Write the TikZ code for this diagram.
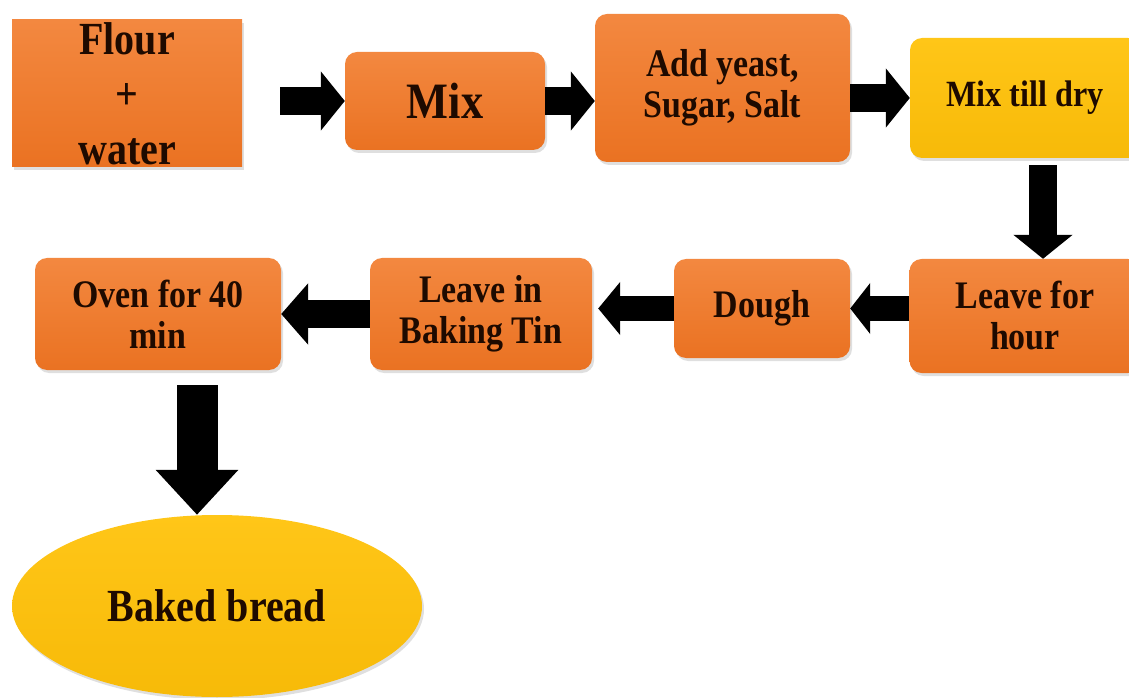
\documentclass[tikz,border=0pt]{standalone}
\usepackage{fontspec}
\setmainfont{Liberation Serif}[FakeStretch=0.87]
\usetikzlibrary{arrows.meta,shapes.geometric,shadows}
\definecolor{orangeL}{RGB}{243,136,64}
\definecolor{orangeD}{RGB}{234,114,34}
\definecolor{yellowL}{RGB}{255,198,24}
\definecolor{yellowD}{RGB}{247,186,8}
\definecolor{ink}{RGB}{30,10,0}
\begin{document}
\begin{tikzpicture}[x=1pt,y=1pt,node distance=135,
    stepbox/.style={
      rounded corners=12pt,
      top color=orangeL,bottom color=orangeD,
      drop shadow={shadow xshift=2pt,shadow yshift=-3pt,opacity=0.25},
      text=ink,align=center,inner sep=0,
      font=\bfseries\fontsize{39}{41}\selectfont},
    flow/.style={line width=28pt,-{Triangle[length=24pt,width=58pt]}}]
    \useasboundingbox (0,0) rectangle (1129,697);

    % top row, left to right
    \node[
      stepbox,
      rounded corners=0pt,
      minimum width=230,minimum height=147,
      font=\bfseries\fontsize{46}{55}\selectfont] (flour) at (127,603.5) {
      Flour\\+\\water};
    \node[
      stepbox,
      minimum width=200,minimum height=98,
      font=\bfseries\fontsize{51}{50}\selectfont] (mix) [right of=flour,node distance=318,yshift=-7.5] {
      Mix};
    \node[
      stepbox,
      minimum width=255,minimum height=148] (yeast) [right of=mix,node distance=277.5,yshift=13] {
      Add yeast,\\Sugar, Salt};
    \node[
      stepbox,
      top color=yellowL,bottom color=yellowD,
      minimum width=230,minimum height=120,
      font=\bfseries\fontsize{37}{40}\selectfont] (dry) [right of=yeast,node distance=302.5,yshift=-10] {
      Mix till dry};

    % second row, right to left
    \node[
      stepbox,
      minimum width=231,minimum height=114] (hour) [below of=dry,node distance=218] {
      Leave for\\hour};
    \node[
      stepbox,
      minimum width=176,minimum height=99] (dough) [left of=hour,node distance=263,yshift=7.5] {
      Dough};
    \node[
      stepbox,
      minimum width=222,minimum height=112] (tin) [left of=dough,node distance=281,yshift=-5.5] {
      Leave in\\Baking Tin};
    \node[
      stepbox,
      minimum width=246,minimum height=112] (oven) [left of=tin,node distance=323] {
      Oven for 40\\min};

    \node[
      ellipse,
      top color=yellowL,bottom color=yellowD,
      drop shadow={shadow xshift=2pt,shadow yshift=-3pt,opacity=0.25},
      minimum width=410,minimum height=182,inner sep=0,
      text=ink,font=\bfseries\fontsize{46}{46}\selectfont] (bread) [below of=oven,node distance=292,xshift=59] {
      Baked bread};

    \draw[flow,shorten <=38pt] (flour.east |- mix.west)--(mix.west);
    \draw[flow] (mix.east)--(mix.east -| yeast.west);
    \draw[flow] (yeast.east |- dry.west)--(dry.west);
    \draw[flow,shorten <=7pt] ([xshift=18]dry.south)--([xshift=18]hour.north);
    \draw[flow,line width=25pt,-{Triangle[length=20pt,width=50pt]}] (hour.west |- dough.east)--(dough.east);
    \draw[flow,line width=25pt,-{Triangle[length=22pt,width=52pt]},shorten >=6pt] (dough.west)--(dough.west -| tin.east);
    \draw[flow,-{Triangle[length=27pt,width=60pt]}] (tin.west)--(oven.east);
    \draw[flow,line width=41pt,-{Triangle[length=45pt,width=80pt]},shorten <=15pt] ([xshift=39]oven.south)--([xshift=39]oven.south |- bread.north);
  \end{tikzpicture}
\end{document}
